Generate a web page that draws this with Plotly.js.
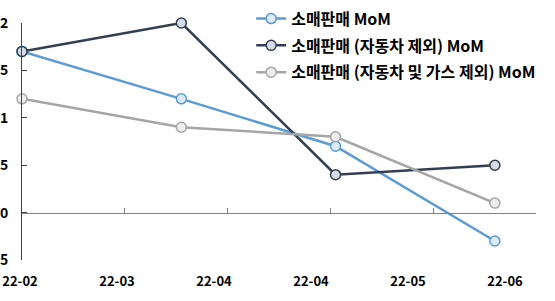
<!DOCTYPE html>
<html>
<head>
<meta charset="utf-8">
<script src="https://cdn.plot.ly/plotly-3.0.1.min.js"></script>
<style>html,body{margin:0;padding:0;background:#fff;}#chart{width:555px;height:301px;}</style>
</head>
<body>
<div id="chart"></div>
<script>
// Data
const dates = ['2022-02-28', '2022-03-31', '2022-04-30', '2022-05-31'];
const retailSales = [1.7, 1.2, 0.7, -0.3];
const retailExAuto = [1.7, 2.0, 0.4, 0.5];
const retailExAutoGas = [1.2, 0.9, 0.8, 0.1];
const seriesNames = ['소매판매 MoM', '소매판매 (자동차 제외) MoM', '소매판매 (자동차 및 가스 제외) MoM'];
const xRange = ['2022-02-28', '2022-06-08'];
const tickStart = '2022-02-28';
const tickStepDays = 20;
const yRange = [-0.5, 2];
const yStep = 0.5;

const FONT = '"Noto Sans CJK KR", "Noto Sans", sans-serif';
const DAY = 86400000;

function series(name, y, color, fill, group) {
  return {
    type: 'scatter', mode: 'lines+markers', name: name, x: dates, y: y,
    xaxis: 'x', yaxis: 'y', legendgroup: group, cliponaxis: false,
    line: {color: color, width: 2.5},
    marker: {symbol: 'circle', size: 10, color: fill, line: {color: color, width: 1.5}}
  };
}

const traces = [
  series(seriesNames[0], retailSales, '#5B9BD5', '#DDEBF7', 'a'),
  series(seriesNames[1], retailExAuto, '#333F50', '#D6DCE5', 'b'),
  series(seriesNames[2], retailExAutoGas, '#A5A5A5', '#EDEDED', 'c'),
  // empty helper trace so the date-label axis is drawn
  {type: 'scatter', mode: 'lines', x: [], y: [], xaxis: 'x2', yaxis: 'y',
   showlegend: false, hoverinfo: 'skip'}
];

const layout = {
  width: 555, height: 301,
  margin: {l: 20, r: 19, t: 23, b: 41, pad: 0, autoexpand: false},
  paper_bgcolor: '#ffffff', plot_bgcolor: 'rgba(0,0,0,0)',
  font: {family: FONT, size: 13, color: '#000000', weight: 700},
  showlegend: true,
  legend: {
    x: 0.448, xanchor: 'left', y: 1.09, yanchor: 'top',
    bgcolor: 'rgba(0,0,0,0)', borderwidth: 0,
    font: {family: FONT, size: 16, color: '#000000', weight: 700},
    traceorder: 'grouped', tracegroupgap: 3
  },
  xaxis: {
    type: 'date', range: xRange, domain: [2 / 516, 1],
    anchor: 'free', position: 0.2,
    showline: true, linecolor: '#808080', linewidth: 1,
    ticks: 'inside', ticklen: 5, tickcolor: '#808080', tickwidth: 1,
    tick0: tickStart, dtick: tickStepDays * DAY,
    showticklabels: false, showgrid: false, zeroline: false, fixedrange: true
  },
  xaxis2: {
    type: 'date', range: xRange, domain: [0, 485 / 516], anchor: 'y',
    tick0: tickStart, dtick: tickStepDays * DAY, tickformat: '%y-%m',
    ticks: '', showline: false, showgrid: false, zeroline: false,
    ticklabelstandoff: 12,
    tickfont: {family: FONT, size: 13, color: '#000000', weight: 700},
    fixedrange: true
  },
  yaxis: {
    range: yRange, tick0: 0, dtick: yStep, anchor: 'x',
    showline: true, linecolor: '#404040', linewidth: 1,
    ticks: 'inside', ticklen: 5, tickcolor: '#404040',
    showgrid: false, zeroline: false,
    ticklabelstandoff: 10,
    tickfont: {family: FONT, size: 14, color: '#000000', weight: 700},
    fixedrange: true
  }
};

Plotly.newPlot('chart', traces, layout, {displayModeBar: false, staticPlot: true});
</script>
</body>
</html>
